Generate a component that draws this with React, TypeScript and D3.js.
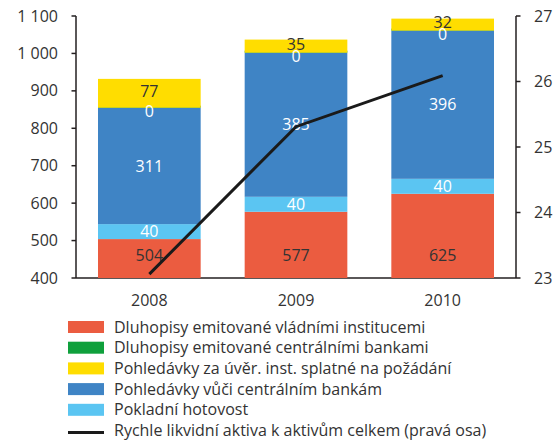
import React from "react";
import * as d3 from "d3";

const years = ["2008", "2009", "2010"];
const govBonds = [504, 577, 625];
const cash = [40, 40, 40];
const cbClaims = [311, 385, 396];
const cbBonds = [0, 0, 0];
const demandClaims = [77, 35, 32];
const liquidRatio = [23.06, 25.31, 26.09];

const leftTicks = [400, 500, 600, 700, 800, 900, 1000, 1100];
const rightTicks = [23, 24, 25, 26, 27];

const seriesNames = [
  "Dluhopisy emitované vládními institucemi",
  "Dluhopisy emitované centrálními bankami",
  "Pohledávky za úvěr. inst. splatné na požádání",
  "Pohledávky vůči centrálním bankám",
  "Pokladní hotovost",
  "Rychle likvidní aktiva k aktivům celkem (pravá osa)",
];

const W = 555;
const H = 446;
const FONT = "'Open Sans', sans-serif";
const TXT = "#333333";
const AX = "#231f20";

const COLORS = {
  gov: "#eb5c40",
  cbBonds: "#0fa03c",
  demand: "#ffdd00",
  cb: "#3f84c5",
  cash: "#5bc5f2",
};

function fmt(v: number) {
  return v >= 1000 ? `${Math.floor(v / 1000)} ${String(v % 1000).padStart(3, "0")}` : String(v);
}

export default function App() {
  const left = 76;
  const right = 516;
  const top = 16;
  const bottom = 278;

  const x = d3.scaleBand<string>().domain(years).range([left, right]).paddingInner(0.3).paddingOuter(0.15);
  const y = d3.scaleLinear().domain([400, 1100]).range([bottom, top]);
  const y2 = d3.scaleLinear().domain([23, 27]).range([bottom, top]);

  // stacking order bottom -> top
  const stackDefs = [
    { key: "gov", vals: govBonds, color: COLORS.gov, text: TXT },
    { key: "cash", vals: cash, color: COLORS.cash, text: "#ffffff" },
    { key: "cb", vals: cbClaims, color: COLORS.cb, text: "#ffffff" },
    { key: "cbBonds", vals: cbBonds, color: COLORS.cbBonds, text: "#ffffff" },
    { key: "demand", vals: demandClaims, color: COLORS.demand, text: TXT },
  ];

  const bars: React.ReactNode[] = [];
  const labels: React.ReactNode[] = [];
  years.forEach((yr, i) => {
    let acc = 0;
    stackDefs.forEach((s, si) => {
      const v = s.vals[i];
      const y0 = si === 0 ? y(400) : y(acc);
      const y1 = y(acc + v);
      const h = Math.max(y0 - y1, s.key === "cbBonds" ? 2 : 0);
      const yTop = y0 - h;
      bars.push(
        <rect key={`${yr}-${s.key}`} x={x(yr)} y={yTop} width={x.bandwidth()} height={h} fill={s.color} />
      );
      let ly = (y0 + yTop) / 2;
      if (s.key === "gov") ly = y(400) - 23;
      if (s.key === "cbBonds") ly = y0 + 4;
      if (s.key === "demand") ly = ly - 2;
      labels.push(
        <text
          key={`l-${yr}-${s.key}`}
          x={(x(yr) as number) + x.bandwidth() / 2}
          y={ly}
          dy="0.35em"
          textAnchor="middle"
          fill={s.text}
          fontSize={16}
          fontFamily={FONT}
        >
          {v}
        </text>
      );
      acc += v;
    });
  });

  const line = d3
    .line<number>()
    .x((_, i) => (x(years[i]) as number) + x.bandwidth() / 2)
    .y((d) => y2(d));

  const legendSwatches = [COLORS.gov, COLORS.cbBonds, COLORS.demand, COLORS.cb, COLORS.cash];
  const legendTop = 327;
  const legendStep = 20.7;

  return (
    <svg width={W} height={H} style={{ position: "absolute", left: 0, top: 0, background: "#fff" }}>
      <line x1={left} x2={right} y1={bottom} y2={bottom} stroke={AX} strokeWidth={1.5} />
      {bars}
      <line x1={left} x2={left} y1={top} y2={bottom} stroke={AX} strokeWidth={1.5} />
      {leftTicks.map((t) => (
        <g key={`lt${t}`}>
          <line x1={left - 4.5} x2={left} y1={y(t)} y2={y(t)} stroke={AX} strokeWidth={1.5} />
          <text x={58} y={y(t)} dy="0.35em" textAnchor="end" fill={TXT} fontSize={16} fontFamily={FONT}>
            {fmt(t)}
          </text>
        </g>
      ))}
      <line x1={right} x2={right} y1={top} y2={bottom} stroke={AX} strokeWidth={1.5} />
      {rightTicks.map((t) => (
        <g key={`rt${t}`}>
          <line x1={right} x2={right + 4.5} y1={y2(t)} y2={y2(t)} stroke={AX} strokeWidth={1.5} />
          <text x={534} y={y2(t)} dy="0.35em" textAnchor="start" fill={TXT} fontSize={16} fontFamily={FONT}>
            {t}
          </text>
        </g>
      ))}
      {years.map((yr) => (
        <text
          key={`x${yr}`}
          x={(x(yr) as number) + x.bandwidth() / 2}
          y={300}
          dy="0.35em"
          textAnchor="middle"
          fill={TXT}
          fontSize={16}
          fontFamily={FONT}
        >
          {yr}
        </text>
      ))}
      {labels}
      <path d={line(liquidRatio) || ""} fill="none" stroke="#1a1a1a" strokeWidth={3} />
      {seriesNames.map((name, i) => {
        const cy = legendTop + i * legendStep;
        return (
          <g key={`lg${i}`}>
            {i < 5 ? (
              <rect x={68} y={cy - 6} width={36} height={12} fill={legendSwatches[i]} />
            ) : (
              <line x1={68} x2={104} y1={cy + 2} y2={cy + 2} stroke="#1a1a1a" strokeWidth={3} />
            )}
            <text x={114} y={cy} dy="0.35em" fill={TXT} fontSize={16} fontFamily={FONT}>
              {name}
            </text>
          </g>
        );
      })}
    </svg>
  );
}
